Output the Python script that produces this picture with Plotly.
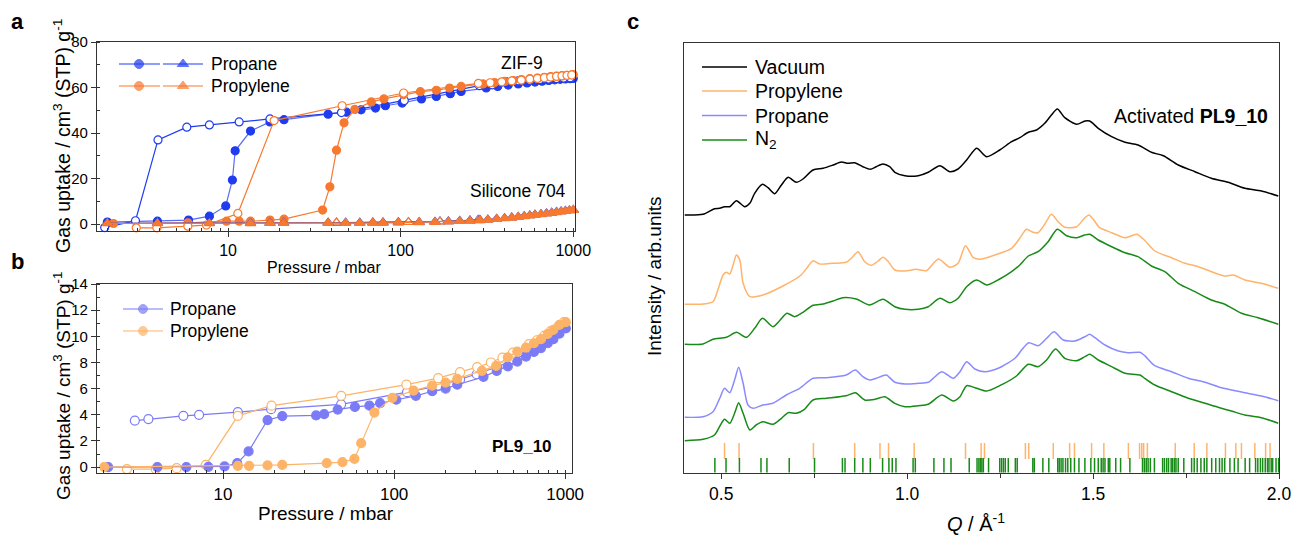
import plotly.graph_objects as go

W, H = 1293, 537
FONT = "Liberation Sans, Arial, sans-serif"
AX = "#333333"

BLUE_A, BLUE_A_LINE, ORANGE_A = "#1f3cf0", "#5a6cf5", "#f7792f"
BLUE_B, ORANGE_B = "#7b7bf6", "#fdb468"
BLUE_C, ORANGE_C, GREEN_C = "#8a8aff", "#ffb36b", "#188a18"

# ---- panel a: ZIF-9 / Silicone 704 isotherms (pressure mbar, uptake cm3 g-1)
ZA_PROPANE_ADS_X = [2.0, 3.9, 5.9, 7.8, 9.7, 10.6, 11.0, 13.5, 17.5, 21.1, 38, 48.5, 59, 71.5, 81.6,
                    102, 132, 161, 194, 224, 313, 365, 420, 480, 540, 600, 660, 720, 780, 840, 900, 960, 1000]
ZA_PROPANE_ADS_Y = [0.9, 1.3, 1.8, 3.5, 8.0, 19.4, 32.2, 40.9, 44.9, 45.9, 48.3, 49.2, 50.2, 51.0, 52.0,
                    53.2, 55.0, 56.1, 57.3, 58.3, 59.8, 60.5, 61.1, 61.6, 62.0, 62.4, 62.8, 63.1, 63.4, 63.6, 63.8, 63.9, 64.0]
ZA_PROPANE_DES_X = [1.93, 2.91, 3.93, 5.77, 7.8, 11.6, 17.5, 45.4, 105, 286, 339, 407, 480, 560, 640, 720, 800, 880, 960]
ZA_PROPANE_DES_Y = [-1.5, 1.5, 37.0, 42.6, 43.6, 44.9, 46.2, 49.0, 54.3, 60.8, 61.2, 62.6, 62.9, 63.2, 63.5, 63.7, 63.9, 64.1, 64.3]
ZA_PROPYLENE_ADS_X = [2.17, 5.85, 9.8, 11.6, 13.5, 17.5, 21.1, 35.3, 38.9, 42.5, 47, 54.2, 67.6, 80, 104, 130, 161,
                      192, 224, 300, 350, 400, 450, 500, 560, 620, 680, 740, 800, 860, 920, 980, 1000]
ZA_PROPYLENE_ADS_Y = [0.3, 0.6, 1.3, 1.3, 1.3, 1.8, 2.2, 6.2, 16.4, 32.5, 44.5, 50.4, 53.7, 55.0, 56.9, 58.2, 58.8,
                      59.8, 60.5, 61.6, 62.2, 62.7, 63.1, 63.5, 63.9, 64.2, 64.5, 64.8, 65.0, 65.2, 65.4, 65.6, 65.7]
ZA_PROPYLENE_DES_X = [2.94, 3.87, 5.85, 7.5, 11.4, 18.5, 45.8, 104, 282, 330, 385, 440, 500, 560, 620, 680, 740,
                      800, 860, 920, 980]
ZA_PROPYLENE_DES_Y = [-1.6, -1.6, -0.9, -0.4, 4.7, 45.5, 52.0, 57.6, 61.8, 62.1, 62.5, 62.9, 63.3, 63.7, 64.0,
                      64.3, 64.6, 64.9, 65.1, 65.3, 65.5]
SIL_ADS_X = [2.0, 3.9, 7.8, 13.5, 17.5, 21, 38, 48, 58, 69, 79, 97, 128, 158, 189, 220, 252, 288, 320, 360,
             400, 440, 480, 520, 560, 600, 650, 700, 750, 800, 850, 900, 950, 1000]
SIL_PROPANE_ADS_Y = [0.4, 0.4, 0.4, 0.4, 0.5, 0.5, 0.6, 0.6, 0.6, 0.7, 0.7, 0.8, 0.9, 1.0, 1.2, 1.4, 1.6, 1.8,
                     2.0, 2.3, 2.6, 2.9, 3.2, 3.5, 3.8, 4.1, 4.4, 4.7, 5.0, 5.3, 5.6, 5.8, 6.0, 6.2]
SIL_PROPYLENE_ADS_Y = [0.3, 0.3, 0.3, 0.3, 0.4, 0.4, 0.5, 0.5, 0.5, 0.6, 0.6, 0.7, 0.8, 0.9, 1.1, 1.3, 1.5, 1.7,
                       1.9, 2.2, 2.5, 2.8, 3.1, 3.4, 3.7, 4.0, 4.3, 4.6, 4.9, 5.2, 5.5, 5.7, 6.0, 6.2]
SIL_DES_X = [42.5, 111, 169, 281]
SIL_PROPANE_DES_Y = [0.6, 0.9, 1.2, 1.8]
SIL_PROPYLENE_DES_Y = [0.7, 0.9, 1.1, 1.7]

# ---- panel b: PL9_10 isotherms
PB_PROPANE_ADS_X = [2.13, 4.13, 6.1, 8.2, 10.2, 12.1, 14.1, 18.2, 22.2, 35, 39, 46.8, 59, 71.7, 82.8, 103, 134,
                    167, 200, 234, 333, 398, 462, 525, 590, 657, 722, 791, 853, 926, 1009]
PB_PROPANE_ADS_Y = [0, 0, 0, 0.02, 0.05, 0.3, 1.2, 3.6, 3.9, 3.95, 4.05, 4.4, 4.6, 4.7, 4.9, 5.15, 5.45,
                    5.8, 6.0, 6.3, 6.9, 7.35, 7.7, 8.07, 8.45, 8.8, 9.1, 9.47, 9.78, 10.2, 10.6]
PB_PROPANE_DES_X = [3.05, 3.66, 5.86, 7.24, 12.2, 19.1, 49, 119, 180, 243, 304, 400, 500, 600, 700, 800, 900]
PB_PROPANE_DES_Y = [3.56, 3.67, 3.92, 4.0, 4.2, 4.43, 4.8, 5.73, 6.2, 6.7, 7.1, 7.65, 8.2, 8.7, 9.2, 9.7, 10.25]
PB_PROPYLENE_ADS_X = [2.02, 12.2, 14.2, 18.2, 22.2, 40.4, 49.9, 58.6, 64.2, 76.7, 97.7, 130, 167, 200, 234, 326,
                      395, 462, 525, 590, 657, 722, 791, 853, 926, 1009]
PB_PROPYLENE_ADS_Y = [0, 0.1, 0.1, 0.13, 0.17, 0.3, 0.38, 0.63, 1.83, 4.17, 5.3, 5.85, 6.23, 6.46, 6.75, 7.36,
                      7.74, 8.4, 8.83, 9.14, 9.47, 9.78, 10.18, 10.5, 10.87, 11.08]
PB_PROPYLENE_DES_X = [2.74, 4.04, 5.36, 7.93, 12.2, 19.2, 49, 118, 181, 243, 306, 368, 430, 495, 614, 684, 757,
                      823, 910, 982]
PB_PROPYLENE_DES_Y = [-0.15, -0.15, -0.08, 0.17, 3.92, 4.7, 5.45, 6.3, 6.8, 7.26, 7.64, 8.0, 8.37, 8.75, 9.4,
                      9.7, 10.05, 10.4, 10.74, 11.08]

# ---- panel c: scattering patterns (Q in 1/A, offset intensity in arb. units)
VAC_Q = [0.402, 0.451, 0.482, 0.496, 0.509, 0.523, 0.541, 0.563, 0.577, 0.590, 0.611, 0.626, 0.644, 0.662, 0.680,
         0.702, 0.720, 0.747, 0.774, 0.801, 0.823, 0.841, 0.859, 0.881, 0.901, 0.917, 0.935, 0.953, 0.967, 0.994,
         1.030, 1.057, 1.088, 1.115, 1.137, 1.160, 1.187, 1.214, 1.249, 1.281, 1.303, 1.326, 1.348, 1.370, 1.388,
         1.404, 1.424, 1.456, 1.478, 1.491, 1.514, 1.550, 1.586, 1.621, 1.657, 1.689, 1.729, 1.774, 1.818, 1.863,
         1.908, 1.953, 1.998]
VAC_I = [258, 258.7, 264.3, 264.7, 266.3, 266.3, 272.3, 266.3, 269.7, 279.7, 288.7, 285.3, 279.3, 288, 295.7,
         290.7, 294, 303, 304.7, 308, 311, 309.7, 310.3, 306.3, 303.7, 306.3, 309, 306.3, 300.7, 297.3,
         297.3, 300.7, 307.3, 301.3, 304, 313, 324.7, 316.3, 323, 331.3, 335.3, 340.7, 343, 349.7, 358,
         364, 355.3, 348.7, 352, 352, 344.7, 336.3, 330.7, 328, 320.7, 317.3, 308, 301.3, 294.7, 290.7,
         284.7, 282, 277]
PROPYLENE_Q = [0.402, 0.451, 0.478, 0.491, 0.505, 0.514, 0.523, 0.532, 0.541, 0.550, 0.559, 0.577, 0.612, 0.666,
               0.715, 0.733, 0.747, 0.765, 0.801, 0.836, 0.850, 0.868, 0.886, 0.904, 0.922, 0.935, 0.948, 0.967,
               0.994, 1.025, 1.052, 1.084, 1.115, 1.137, 1.157, 1.178, 1.196, 1.236, 1.281, 1.303, 1.321, 1.339,
               1.352, 1.370, 1.388, 1.406, 1.424, 1.456, 1.478, 1.489, 1.500, 1.518, 1.550, 1.586, 1.617, 1.635,
               1.666, 1.711, 1.747, 1.783, 1.818, 1.854, 1.877, 1.908, 1.953, 1.998]
PROPYLENE_I = [168.7, 169, 171.3, 183, 198, 200.7, 199, 208, 218, 213, 189.7, 176.3, 178, 187,
               198, 206.3, 212.3, 209, 209.7, 210.7, 214.7, 221.3, 211.3, 207.7, 212, 215.7, 212, 203,
               202, 203.7, 202.3, 214, 205.7, 209.7, 227.3, 215.3, 213.7, 218, 224.7, 234.7, 243.7, 240.7,
               240.3, 248.7, 258.7, 251.3, 245.7, 246.3, 255.3, 258, 254, 245.3, 240.3, 235.3, 238.7, 234,
               222, 215.3, 209.7, 206.3, 201.3, 197, 198, 193, 189.7, 184.7]
N2_TOP_Q = [0.402, 0.451, 0.478, 0.514, 0.541, 0.568, 0.590, 0.611, 0.639, 0.657, 0.677, 0.698, 0.720, 0.747,
            0.774, 0.801, 0.827, 0.863, 0.899, 0.935, 0.967, 0.994, 1.030, 1.057, 1.088, 1.115, 1.137, 1.160,
            1.187, 1.214, 1.249, 1.281, 1.303, 1.326, 1.352, 1.379, 1.404, 1.429, 1.456, 1.478, 1.491, 1.514,
            1.550, 1.586, 1.621, 1.657, 1.693, 1.729, 1.774, 1.818, 1.854, 1.899, 1.944, 1.998]
N2_TOP_I = [128.7, 129, 133.7, 135.7, 140.7, 135.7, 144.7, 154.7, 146.3, 152.3, 159.7, 156.3, 160.7, 167.7,
            169, 172, 175.3, 174, 168, 173.7, 166.3, 163.7, 163.7, 166.3, 174.7, 170.3, 174.7, 186.3,
            193, 188, 194, 201.3, 208, 217, 221.3, 231.3, 243.7, 237.3, 235.3, 238, 238.7, 233,
            226.3, 220.3, 216.3, 207, 201.3, 189.7, 181.3, 173, 168.7, 159.7, 155.3, 148.7]
PROPANE_Q = [0.402, 0.451, 0.478, 0.496, 0.509, 0.523, 0.536, 0.547, 0.559, 0.572, 0.586, 0.612, 0.639, 0.675,
             0.711, 0.747, 0.783, 0.836, 0.861, 0.881, 0.899, 0.917, 0.944, 0.967, 0.994, 1.030, 1.057, 1.093,
             1.124, 1.142, 1.160, 1.182, 1.209, 1.245, 1.290, 1.308, 1.327, 1.352, 1.375, 1.395, 1.420, 1.451,
             1.478, 1.491, 1.505, 1.532, 1.568, 1.594, 1.626, 1.639, 1.666, 1.711, 1.756, 1.801, 1.836, 1.872,
             1.908, 1.953, 1.998]
PROPANE_I = [55.7, 56.3, 61.3, 74.7, 84.7, 80.3, 93, 105.7, 89.7, 68, 64.7, 68, 69.7, 78,
             84.7, 94.7, 95.3, 98, 103, 96.3, 93, 94.7, 98, 90.7, 89, 89.7, 90.7, 101.3,
             94.7, 101.3, 111.3, 104, 101.3, 104.7, 114.7, 123, 130.3, 127.3, 134.7, 141.3, 133, 132,
             136.3, 138.7, 135.3, 128, 122, 120.3, 120.7, 117.3, 107.3, 101.3, 94.7, 90.7, 86.3, 83,
             80.3, 77, 72.3]
N2_LOW_Q = [0.402, 0.451, 0.482, 0.498, 0.509, 0.523, 0.536, 0.547, 0.559, 0.577, 0.594, 0.612, 0.639, 0.662,
            0.680, 0.702, 0.724, 0.747, 0.783, 0.836, 0.861, 0.886, 0.913, 0.940, 0.967, 0.994, 1.030, 1.057,
            1.093, 1.124, 1.142, 1.160, 1.187, 1.214, 1.249, 1.294, 1.326, 1.352, 1.375, 1.399, 1.424, 1.456,
            1.478, 1.491, 1.514, 1.550, 1.586, 1.626, 1.639, 1.666, 1.711, 1.756, 1.801, 1.836, 1.872, 1.908,
            1.953, 1.998]
N2_LOW_I = [32.3, 33.7, 38, 48, 53.7, 49.7, 59.7, 70.3, 59.7, 43, 48, 51.3, 48.7, 54.7,
            60.3, 59.7, 63.7, 73, 74.7, 77.3, 80.3, 73, 73.7, 76.3, 69.7, 66.3, 67.3, 68.7,
            78, 72, 76.3, 87.3, 84.7, 82, 87.3, 97, 108.7, 106.3, 113, 124, 114.7, 112.3,
            116.3, 118.7, 113, 106.3, 99.7, 98, 94.7, 88, 81.3, 74.7, 69.7, 65.7, 62, 58,
            55.3, 49.7]
# calculated reflection positions
REFL_PROPYLENE_Q = [0.509, 0.548, 0.748, 0.859, 0.927, 0.950, 1.019, 1.157, 1.199, 1.208, 1.318, 1.327, 1.393,
                    1.437, 1.450, 1.496, 1.529, 1.595, 1.625, 1.631, 1.636, 1.646, 1.721, 1.772, 1.806, 1.856,
                    1.884, 1.899, 1.935, 1.964, 1.976]
REFL_N2_Q = [0.483, 0.513, 0.549, 0.607, 0.623, 0.683, 0.751, 0.826, 0.833, 0.859, 0.881, 0.901, 0.934, 0.951,
             0.960, 0.970, 1.016, 1.022, 1.072, 1.099, 1.118, 1.167, 1.188, 1.193, 1.197, 1.201, 1.205, 1.219,
             1.249, 1.254, 1.259, 1.264, 1.272, 1.291, 1.296, 1.338, 1.342, 1.365, 1.381, 1.405, 1.409, 1.414,
             1.419, 1.426, 1.432, 1.440, 1.450, 1.462, 1.478, 1.494, 1.504, 1.514, 1.522, 1.527, 1.532, 1.541,
             1.545, 1.561, 1.574, 1.599, 1.633, 1.638, 1.643, 1.648, 1.654, 1.665, 1.687, 1.692, 1.698, 1.703,
             1.710, 1.714, 1.719, 1.723, 1.729, 1.744, 1.765, 1.772, 1.780, 1.790, 1.799, 1.806, 1.819, 1.830,
             1.840, 1.847, 1.854, 1.868, 1.880, 1.890, 1.909, 1.921, 1.937, 1.943, 1.950, 1.956, 1.963, 1.969,
             1.973, 1.979, 1.983, 1.992, 1.999]
REFL_PROPYLENE_SPAN = (14, 30)
REFL_N2_SPAN = (0.5, 15)


def pxx(x):
    return x / W


def pxy(y):
    return 1 - y / H


def iso(fig, x, y, color, filled, symbol, size, xa, ya, line_color=None, lw=1.2):
    fig.add_trace(go.Scatter(
        x=x, y=y, mode="lines+markers", xaxis=xa, yaxis=ya, showlegend=False, cliponaxis=False,
        line=dict(color=line_color or color, width=lw),
        marker=dict(symbol=symbol, size=size, color=color if filled else "white",
                    line=dict(color=color, width=1.2)),
    ))


def ticks_trace(fig, qs, span, color):
    xs, ys = [], []
    for q in qs:
        xs += [q, q, None]
        ys += [span[0], span[1], None]
    fig.add_trace(go.Scatter(x=xs, y=ys, mode="lines", line=dict(color=color, width=1.5),
                             xaxis="x3", yaxis="y3", showlegend=False))


def swatch(fig, x0, x1, y, color, xm=None, symbol="circle", size=8, lw=1.2):
    # legend glyph drawn on the full-figure pixel overlay axis
    if xm is None:
        fig.add_trace(go.Scatter(x=[x0, x1], y=[y, y], mode="lines", line=dict(color=color, width=lw),
                                 xaxis="x4", yaxis="y4", showlegend=False))
    else:
        fig.add_trace(go.Scatter(x=[x0, xm, x1], y=[y, y, y], mode="lines+markers",
                                 line=dict(color=color, width=lw),
                                 marker=dict(symbol=symbol, size=[0, size, 0], color=color,
                                             line=dict(color=color, width=1)),
                                 xaxis="x4", yaxis="y4", showlegend=False, cliponaxis=False))


fig = go.Figure()

# panel a
iso(fig, ZA_PROPANE_ADS_X, ZA_PROPANE_ADS_Y, BLUE_A, True, "circle", 8, "x", "y", line_color=BLUE_A_LINE)
iso(fig, ZA_PROPANE_DES_X, ZA_PROPANE_DES_Y, BLUE_A, False, "circle", 8, "x", "y")
iso(fig, ZA_PROPYLENE_ADS_X, ZA_PROPYLENE_ADS_Y, ORANGE_A, True, "circle", 8, "x", "y")
iso(fig, ZA_PROPYLENE_DES_X, ZA_PROPYLENE_DES_Y, ORANGE_A, False, "circle", 8, "x", "y")
iso(fig, SIL_DES_X, SIL_PROPANE_DES_Y, BLUE_A, False, "triangle-up", 9, "x", "y")
iso(fig, SIL_DES_X, SIL_PROPYLENE_DES_Y, ORANGE_A, False, "triangle-up", 9, "x", "y")
iso(fig, SIL_ADS_X, SIL_PROPANE_ADS_Y, BLUE_A, True, "triangle-up", 9, "x", "y")
iso(fig, SIL_ADS_X, SIL_PROPYLENE_ADS_Y, ORANGE_A, True, "triangle-up", 9, "x", "y")

# panel b
iso(fig, PB_PROPANE_DES_X, PB_PROPANE_DES_Y, BLUE_B, False, "circle", 9, "x2", "y2")
iso(fig, PB_PROPYLENE_DES_X, PB_PROPYLENE_DES_Y, ORANGE_B, False, "circle", 9, "x2", "y2")
iso(fig, PB_PROPANE_ADS_X, PB_PROPANE_ADS_Y, BLUE_B, True, "circle", 9, "x2", "y2")
iso(fig, PB_PROPYLENE_ADS_X, PB_PROPYLENE_ADS_Y, ORANGE_B, True, "circle", 9, "x2", "y2")

# panel c
for q, inten, col in [(VAC_Q, VAC_I, "black"), (PROPYLENE_Q, PROPYLENE_I, ORANGE_C),
                      (N2_TOP_Q, N2_TOP_I, GREEN_C), (PROPANE_Q, PROPANE_I, BLUE_C),
                      (N2_LOW_Q, N2_LOW_I, GREEN_C)]:
    fig.add_trace(go.Scatter(x=q, y=inten, mode="lines", line=dict(color=col, width=1.5, shape="spline",
                                                                    smoothing=0.7),
                             xaxis="x3", yaxis="y3", showlegend=False))
ticks_trace(fig, REFL_PROPYLENE_Q, REFL_PROPYLENE_SPAN, ORANGE_C)
ticks_trace(fig, REFL_N2_Q, REFL_N2_SPAN, GREEN_C)

# hand-drawn legends
annotations = []


def label(x, y, text, size, anchor="left", bold=False, angle=0):
    annotations.append(dict(
        x=pxx(x), y=pxy(y), xref="paper", yref="paper", text=f"<b>{text}</b>" if bold else text,
        showarrow=False, xanchor=anchor, yanchor="middle", textangle=angle,
        font=dict(family=FONT, size=size, color="black")))


for row_y, col, name in [(64, BLUE_A, "Propane"), (86, ORANGE_A, "Propylene")]:
    swatch(fig, 119, 160, row_y, col, xm=139, symbol="circle", size=9)
    swatch(fig, 163, 203, row_y, col, xm=183, symbol="triangle-up", size=10)
    label(209, row_y, name, 17.5)

for row_y, col, name in [(309, BLUE_B, "Propane"), (331, ORANGE_B, "Propylene")]:
    swatch(fig, 123, 163, row_y, col, xm=143, symbol="circle", size=9)
    label(168, row_y, name, 17.5)

for row_y, col, name in [(67, "black", "Vacuum"), (91, ORANGE_C, "Propylene"),
                         (115.5, BLUE_C, "Propane"), (140, GREEN_C, "N<sub>2</sub>")]:
    swatch(fig, 702, 747, row_y, col, lw=1.5)
    label(753, row_y, name, 19.5)

label(17, 21, "a", 22, anchor="center", bold=True)
label(17, 261, "b", 22, anchor="center", bold=True)
label(633, 21, "c", 22, anchor="center", bold=True)
label(522, 63, "ZIF-9", 17.5, anchor="center")
label(518, 191, "Silicone 704", 17.5, anchor="center")
label(522, 446, "PL9_10", 17, anchor="center", bold=True)
label(1270, 116, "Activated <b>PL9_10</b>", 19.5, anchor="right")
label(62, 136, "Gas uptake / cm<sup>3</sup> (STP) g<sup>-1</sup>", 19.5, anchor="center", angle=-90)
label(62, 386, "Gas uptake / cm<sup>3</sup> (STP) g<sup>-1</sup>", 19, anchor="center", angle=-90)
label(324, 267, "Pressure / mbar", 16, anchor="center")
label(326, 513, "Pressure / mbar", 19, anchor="center")
label(976, 522, "<i>Q</i> / Å<sup>-1</sup>", 20, anchor="center")
label(654, 277, "Intensity / arb.units", 19, anchor="center", angle=-90)


def axis(**kw):
    d = dict(showline=True, linecolor=AX, linewidth=1.2, mirror=True, showgrid=False, zeroline=False,
             automargin=False, ticks="outside", ticklen=5, tickwidth=1.2, tickcolor=AX,
             tickfont=dict(family=FONT, size=15, color="black"))
    d.update(kw)
    return d


def minor(dtick, ticks="inside", length=3):
    return dict(ticks=ticks, ticklen=length, tickwidth=1, tickcolor=AX, dtick=dtick, showgrid=False)


fig.update_layout(
    template="none",
    width=W, height=H, margin=dict(l=0, r=0, t=0, b=0, pad=0), autosize=False,
    paper_bgcolor="white", plot_bgcolor="rgba(0,0,0,0)", showlegend=False,
    font=dict(family=FONT, color="black"),
    annotations=annotations,
    xaxis=axis(domain=[pxx(97), pxx(575)], anchor="y", type="log", range=[0.241, 3.01], dtick=1,
               tickfont=dict(family=FONT, size=16, color="black"), minor=minor("D1")),
    yaxis=axis(domain=[pxy(231), pxy(42)], anchor="x", range=[-3, 80], dtick=20, tick0=0, minor=minor(10)),
    xaxis2=axis(domain=[pxx(97), pxx(572)], anchor="y2", type="log", range=[0.263, 3.04], dtick=1,
                tickfont=dict(family=FONT, size=17, color="black"), minor=minor("D1")),
    yaxis2=axis(domain=[pxy(473), pxy(284)], anchor="x2", range=[-0.45, 14], dtick=2, tick0=0, minor=minor(1)),
    xaxis3=axis(domain=[pxx(684), pxx(1279)], anchor="y3", range=[0.4, 2.0], dtick=0.5, tick0=0,
                tickformat=".1f", tickfont=dict(family=FONT, size=17.5, color="black"),
                minor=minor(0.25, ticks="outside", length=4)),
    yaxis3=axis(domain=[pxy(473), pxy(43)], anchor="x3", range=[0, 430], ticks="", showticklabels=False),
    xaxis4=dict(domain=[0, 1], anchor="y4", range=[0, W], visible=False, fixedrange=True, automargin=False),
    yaxis4=dict(domain=[0, 1], anchor="x4", range=[H, 0], visible=False, fixedrange=True, automargin=False),
)

# the page's default body margin would shift the fixed-size figure
fig.write_html("out.html", config={"displayModeBar": False},
               post_script="document.body.style.margin='0';document.body.style.overflow='hidden';")
